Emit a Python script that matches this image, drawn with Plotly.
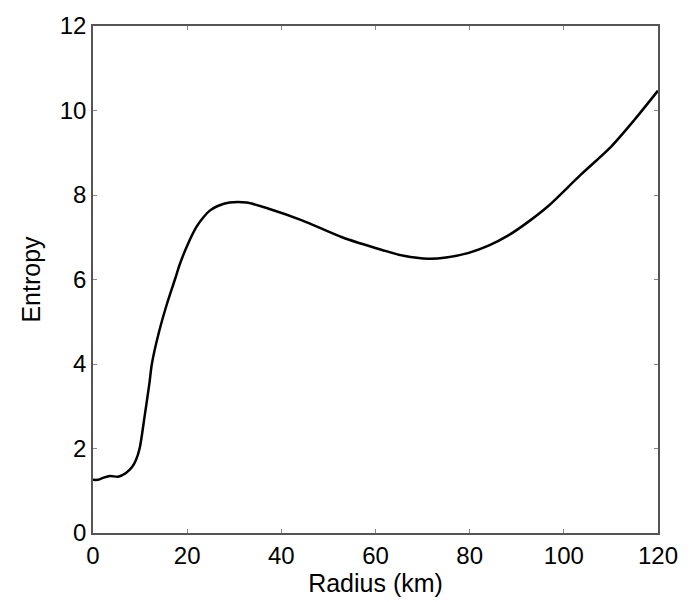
import plotly.graph_objects as go

radius_km = [0, 1, 2, 3.6, 5.3, 7, 8.3, 9.1, 9.9, 11, 12, 12.5, 14, 15.7, 17.4, 18.4, 20, 22, 23.5, 24.8, 26.5, 29,
             32.6, 37.5, 44.4, 52.9, 61.4, 66, 71.3, 75, 79.8, 84, 88.3, 92.5, 96.7, 103.5, 110, 115, 120]
entropy = [1.26, 1.26, 1.3, 1.35, 1.33, 1.42, 1.56, 1.72, 2.0, 2.79, 3.56, 4.0, 4.75, 5.42, 6.0, 6.35, 6.8, 7.25, 7.48,
           7.63, 7.74, 7.82, 7.82, 7.67, 7.40, 7.0, 6.7, 6.56, 6.49, 6.52, 6.63, 6.8, 7.05, 7.37, 7.74, 8.47, 9.14,
           9.78, 10.47]

x_ticks = [0, 20, 40, 60, 80, 100, 120]
y_ticks = [0, 2, 4, 6, 8, 10, 12]

FONT = "Liberation Sans, Arial, sans-serif"

fig = go.Figure()
fig.add_trace(go.Scatter(x=radius_km, y=entropy, mode="lines",
                         line=dict(color="black", width=2.5, shape="spline", smoothing=0.8),
                         showlegend=False))

axis_common = dict(showgrid=False, zeroline=False, showline=True, linecolor="#555555", linewidth=1.5,
                   mirror="ticks", ticks="inside", ticklen=4, tickcolor="#888888", tickwidth=1,
                   tickfont=dict(family=FONT, size=24, color="black"))

fig.update_layout(
    width=690, height=602,
    margin=dict(l=93, r=30, t=17, b=69),
    paper_bgcolor="white", plot_bgcolor="white",
    xaxis=dict(range=[0, 120], tickvals=x_ticks,
               title=dict(text="Radius (km)", standoff=2, font=dict(family=FONT, size=25, color="black")),
               **axis_common),
    yaxis=dict(range=[0, 12], tickvals=y_ticks,
               title=dict(text="Entropy", standoff=12, font=dict(family=FONT, size=25, color="black")),
               **axis_common),
)

fig.write_html("out.html")
